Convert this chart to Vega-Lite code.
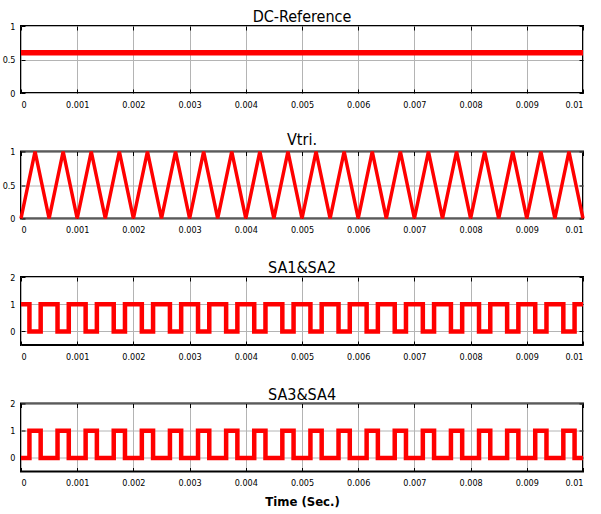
{
  "$schema": "https://vega.github.io/schema/vega-lite/v6.json",
  "background": "white",
  "padding": {"left": 1, "top": 8, "right": 5, "bottom": 2},
  "config": {
    "font": "DejaVu Sans Condensed, Liberation Sans, sans-serif",
    "view": {"stroke": "black", "strokeWidth": 2},
    "axis": {
      "domain": false,
      "grid": true,
      "gridColor": "#b4b4b4",
      "gridWidth": 1,
      "tickColor": "black",
      "tickSize": -4,
      "tickWidth": 1,
      "labelFont": "DejaVu Sans Condensed, Liberation Sans, sans-serif",
      "labelFontSize": 9,
      "labelColor": "black",
      "labelPadding": 11,
      "title": null
    },
    "axisY": {"labelPadding": 10},
    "title": {
      "font": "DejaVu Sans Condensed, Liberation Sans, sans-serif",
      "fontSize": 16,
      "fontWeight": "normal",
      "color": "black",
      "offset": -3
    }
  },
  "datasets": {
    "dc": [{"t": 0, "v": 0.6}, {"t": 0.01, "v": 0.6}],
    "tri": [
      {"t": 0, "v": 0}, {"t": 0.00025, "v": 1}, {"t": 0.0005, "v": 0}, {"t": 0.00075, "v": 1},
      {"t": 0.001, "v": 0}, {"t": 0.00125, "v": 1}, {"t": 0.0015, "v": 0}, {"t": 0.00175, "v": 1},
      {"t": 0.002, "v": 0}, {"t": 0.00225, "v": 1}, {"t": 0.0025, "v": 0}, {"t": 0.00275, "v": 1},
      {"t": 0.003, "v": 0}, {"t": 0.00325, "v": 1}, {"t": 0.0035, "v": 0}, {"t": 0.00375, "v": 1},
      {"t": 0.004, "v": 0}, {"t": 0.00425, "v": 1}, {"t": 0.0045, "v": 0}, {"t": 0.00475, "v": 1},
      {"t": 0.005, "v": 0}, {"t": 0.00525, "v": 1}, {"t": 0.0055, "v": 0}, {"t": 0.00575, "v": 1},
      {"t": 0.006, "v": 0}, {"t": 0.00625, "v": 1}, {"t": 0.0065, "v": 0}, {"t": 0.00675, "v": 1},
      {"t": 0.007, "v": 0}, {"t": 0.00725, "v": 1}, {"t": 0.0075, "v": 0}, {"t": 0.00775, "v": 1},
      {"t": 0.008, "v": 0}, {"t": 0.00825, "v": 1}, {"t": 0.0085, "v": 0}, {"t": 0.00875, "v": 1},
      {"t": 0.009, "v": 0}, {"t": 0.00925, "v": 1}, {"t": 0.0095, "v": 0}, {"t": 0.00975, "v": 1},
      {"t": 0.01, "v": 0}
    ],
    "sa12": [
      {"t": 0, "v": 1},
      {"t": 0.00015, "v": 0}, {"t": 0.00035, "v": 1}, {"t": 0.00065, "v": 0}, {"t": 0.00085, "v": 1},
      {"t": 0.00115, "v": 0}, {"t": 0.00135, "v": 1}, {"t": 0.00165, "v": 0}, {"t": 0.00185, "v": 1},
      {"t": 0.00215, "v": 0}, {"t": 0.00235, "v": 1}, {"t": 0.00265, "v": 0}, {"t": 0.00285, "v": 1},
      {"t": 0.00315, "v": 0}, {"t": 0.00335, "v": 1}, {"t": 0.00365, "v": 0}, {"t": 0.00385, "v": 1},
      {"t": 0.00415, "v": 0}, {"t": 0.00435, "v": 1}, {"t": 0.00465, "v": 0}, {"t": 0.00485, "v": 1},
      {"t": 0.00515, "v": 0}, {"t": 0.00535, "v": 1}, {"t": 0.00565, "v": 0}, {"t": 0.00585, "v": 1},
      {"t": 0.00615, "v": 0}, {"t": 0.00635, "v": 1}, {"t": 0.00665, "v": 0}, {"t": 0.00685, "v": 1},
      {"t": 0.00715, "v": 0}, {"t": 0.00735, "v": 1}, {"t": 0.00765, "v": 0}, {"t": 0.00785, "v": 1},
      {"t": 0.00815, "v": 0}, {"t": 0.00835, "v": 1}, {"t": 0.00865, "v": 0}, {"t": 0.00885, "v": 1},
      {"t": 0.00915, "v": 0}, {"t": 0.00935, "v": 1}, {"t": 0.00965, "v": 0}, {"t": 0.00985, "v": 1},
      {"t": 0.01, "v": 1}
    ],
    "sa34": [
      {"t": 0, "v": 0},
      {"t": 0.00015, "v": 1}, {"t": 0.00035, "v": 0}, {"t": 0.00065, "v": 1}, {"t": 0.00085, "v": 0},
      {"t": 0.00115, "v": 1}, {"t": 0.00135, "v": 0}, {"t": 0.00165, "v": 1}, {"t": 0.00185, "v": 0},
      {"t": 0.00215, "v": 1}, {"t": 0.00235, "v": 0}, {"t": 0.00265, "v": 1}, {"t": 0.00285, "v": 0},
      {"t": 0.00315, "v": 1}, {"t": 0.00335, "v": 0}, {"t": 0.00365, "v": 1}, {"t": 0.00385, "v": 0},
      {"t": 0.00415, "v": 1}, {"t": 0.00435, "v": 0}, {"t": 0.00465, "v": 1}, {"t": 0.00485, "v": 0},
      {"t": 0.00515, "v": 1}, {"t": 0.00535, "v": 0}, {"t": 0.00565, "v": 1}, {"t": 0.00585, "v": 0},
      {"t": 0.00615, "v": 1}, {"t": 0.00635, "v": 0}, {"t": 0.00665, "v": 1}, {"t": 0.00685, "v": 0},
      {"t": 0.00715, "v": 1}, {"t": 0.00735, "v": 0}, {"t": 0.00765, "v": 1}, {"t": 0.00785, "v": 0},
      {"t": 0.00815, "v": 1}, {"t": 0.00835, "v": 0}, {"t": 0.00865, "v": 1}, {"t": 0.00885, "v": 0},
      {"t": 0.00915, "v": 1}, {"t": 0.00935, "v": 0}, {"t": 0.00965, "v": 1}, {"t": 0.00985, "v": 0},
      {"t": 0.01, "v": 0}
    ]
  },
  "bounds": "flush",
  "spacing": 58.5,
  "vconcat": [
    {
      "title": "DC-Reference",
      "width": 562,
      "height": 67,
      "data": {"name": "dc"},
      "layer": [
        {
          "mark": {"type": "line", "color": "#ff0000", "strokeWidth": 5.5},
          "encoding": {
            "x": {"field": "t", "type": "quantitative", "scale": {"domain": [0, 0.01], "nice": false},
                  "axis": {"values": [0, 0.001, 0.002, 0.003, 0.004, 0.005, 0.006, 0.007, 0.008, 0.009, 0.01], "format": "~g"}},
            "y": {"field": "v", "type": "quantitative", "scale": {"domain": [0, 1], "nice": false, "zero": false},
                  "axis": {"values": [0, 0.5, 1], "format": "~g"}}
          }
        },
        {
          "mark": {"type": "line", "opacity": 0},
          "encoding": {
            "x": {"field": "t", "type": "quantitative",
                  "axis": {"orient": "top", "labels": false, "grid": false, "values": [0, 0.001, 0.002, 0.003, 0.004, 0.005, 0.006, 0.007, 0.008, 0.009, 0.01]}},
            "y": {"field": "v", "type": "quantitative",
                  "axis": {"orient": "right", "labels": false, "grid": false, "values": [0, 0.5, 1]}}
          }
        }
      ],
      "resolve": {"axis": {"x": "independent", "y": "independent"}}
    },
    {
      "title": "Vtri.",
      "width": 562,
      "height": 67,
      "data": {"name": "tri"},
      "layer": [
        {
          "mark": {"type": "line", "color": "#ff0000", "strokeWidth": 3.5},
          "encoding": {
            "x": {"field": "t", "type": "quantitative", "scale": {"domain": [0, 0.01], "nice": false},
                  "axis": {"values": [0, 0.001, 0.002, 0.003, 0.004, 0.005, 0.006, 0.007, 0.008, 0.009, 0.01], "format": "~g"}},
            "y": {"field": "v", "type": "quantitative", "scale": {"domain": [0, 1], "nice": false, "zero": false},
                  "axis": {"values": [0, 0.5, 1], "format": "~g"}}
          }
        },
        {
          "mark": {"type": "line", "opacity": 0},
          "encoding": {
            "x": {"field": "t", "type": "quantitative",
                  "axis": {"orient": "top", "labels": false, "grid": false, "values": [0, 0.001, 0.002, 0.003, 0.004, 0.005, 0.006, 0.007, 0.008, 0.009, 0.01]}},
            "y": {"field": "v", "type": "quantitative",
                  "axis": {"orient": "right", "labels": false, "grid": false, "values": [0, 0.5, 1]}}
          }
        }
      ],
      "resolve": {"axis": {"x": "independent", "y": "independent"}}
    },
    {
      "title": "SA1&SA2",
      "width": 562,
      "height": 68,
      "data": {"name": "sa12"},
      "layer": [
        {
          "mark": {"type": "line", "color": "#ff0000", "strokeWidth": 4.5, "interpolate": "step-after"},
          "encoding": {
            "x": {"field": "t", "type": "quantitative", "scale": {"domain": [0, 0.01], "nice": false},
                  "axis": {"values": [0, 0.001, 0.002, 0.003, 0.004, 0.005, 0.006, 0.007, 0.008, 0.009, 0.01], "format": "~g"}},
            "y": {"field": "v", "type": "quantitative", "scale": {"domain": [-0.5, 2], "nice": false, "zero": false},
                  "axis": {"values": [0, 1, 2], "format": "~g"}}
          }
        },
        {
          "mark": {"type": "line", "opacity": 0},
          "encoding": {
            "x": {"field": "t", "type": "quantitative",
                  "axis": {"orient": "top", "labels": false, "grid": false, "values": [0, 0.001, 0.002, 0.003, 0.004, 0.005, 0.006, 0.007, 0.008, 0.009, 0.01]}},
            "y": {"field": "v", "type": "quantitative",
                  "axis": {"orient": "right", "labels": false, "grid": false, "values": [0, 1, 2]}}
          }
        }
      ],
      "resolve": {"axis": {"x": "independent", "y": "independent"}}
    },
    {
      "title": "SA3&SA4",
      "width": 562,
      "height": 68,
      "data": {"name": "sa34"},
      "layer": [
        {
          "mark": {"type": "line", "color": "#ff0000", "strokeWidth": 4.5, "interpolate": "step-after"},
          "encoding": {
            "x": {"field": "t", "type": "quantitative", "scale": {"domain": [0, 0.01], "nice": false},
                  "axis": {"values": [0, 0.001, 0.002, 0.003, 0.004, 0.005, 0.006, 0.007, 0.008, 0.009, 0.01], "format": "~g",
                           "title": "Time (Sec.)", "titleFontWeight": "bold", "titleFontSize": 13, "titleColor": "black", "titlePadding": 8,
                           "titleFont": "DejaVu Sans Condensed, Liberation Sans, sans-serif"}},
            "y": {"field": "v", "type": "quantitative", "scale": {"domain": [-0.5, 2], "nice": false, "zero": false},
                  "axis": {"values": [0, 1, 2], "format": "~g"}}
          }
        },
        {
          "mark": {"type": "line", "opacity": 0},
          "encoding": {
            "x": {"field": "t", "type": "quantitative",
                  "axis": {"orient": "top", "labels": false, "grid": false, "values": [0, 0.001, 0.002, 0.003, 0.004, 0.005, 0.006, 0.007, 0.008, 0.009, 0.01]}},
            "y": {"field": "v", "type": "quantitative",
                  "axis": {"orient": "right", "labels": false, "grid": false, "values": [0, 1, 2]}}
          }
        }
      ],
      "resolve": {"axis": {"x": "independent", "y": "independent"}}
    }
  ]
}
